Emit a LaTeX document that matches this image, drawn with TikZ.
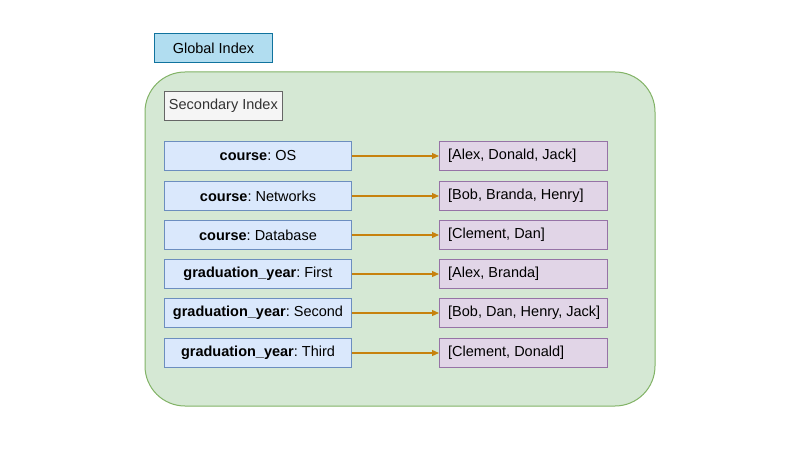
\documentclass[tikz,border=0pt]{standalone}
\usepackage{fontspec}
\setmainfont{Liberation Sans}
\frenchspacing
\usetikzlibrary{arrows.meta}
\definecolor{gfill}{HTML}{D5E8D4}\definecolor{gline}{HTML}{82B366}
\definecolor{bfill}{HTML}{DAE8FC}\definecolor{bline}{HTML}{6C8EBF}
\definecolor{pfill}{HTML}{E1D5E7}\definecolor{pline}{HTML}{9673A6}
\definecolor{tfill}{HTML}{B1DDF0}\definecolor{tline}{HTML}{10739E}
\definecolor{sfill}{HTML}{F5F5F5}\definecolor{sline}{HTML}{666666}
\definecolor{aline}{HTML}{C7820E}
\begin{document}
\begin{tikzpicture}[x=1pt,y=-1pt,
  txt/.style={font=\fontsize{14.5}{17}\selectfont},
  keybox/.style={txt,draw=bline,fill=bfill,line width=1pt,minimum width=187pt,minimum height=29pt,inner sep=0pt,anchor=north west},
  valbox/.style={draw=pline,fill=pfill,line width=1pt,minimum width=168pt,minimum height=29pt,inner sep=0pt,anchor=north west},
  valtext/.style={txt,anchor=west,inner sep=0pt},
  link/.style={draw=aline,line width=1.2pt,-{Triangle[length=7pt,width=6pt]}}]
\useasboundingbox (0,0) rectangle (800,462);
\fill[white] (0,0) rectangle (800,462);
\node[txt,draw=tline,fill=tfill,line width=1pt,minimum width=118pt,minimum height=29pt,inner sep=0pt,anchor=north west] (global) at (154,33) {Global Index};
\draw[draw=gline,fill=gfill,line width=1pt,rounded corners=40pt] (145,72) rectangle (655,406);
\node[txt,draw=sline,fill=sfill,line width=0.8pt,minimum width=118pt,minimum height=29pt,inner sep=0pt,anchor=north west,text=black!80] (sec) at (164,91) {Secondary Index};
\foreach \i/\y/\k/\v in {1/141/{\textbf{course}: OS}/{[Alex, Donald, Jack]},
  2/181/{\textbf{course}: Networks}/{[Bob, Branda, Henry]},
  3/220/{\textbf{course}: Database}/{[Clement, Dan]},
  4/259/{\textbf{graduation\_year}: First}/{[Alex, Branda]},
  5/298/{\textbf{graduation\_year}: Second}/{[Bob, Dan, Henry, Jack]},
  6/338/{\textbf{graduation\_year}: Third}/{[Clement, Donald]}}{
  \node[keybox] (k\i) at (164,\y) {\k};
  \node[valbox] (v\i) at (439,\y) {};
  \node[valtext] (t\i) at ([xshift=9pt]v\i.west) {\v};
  \draw[link] (k\i.east) -- (v\i.west);
}
\end{tikzpicture}
\end{document}
